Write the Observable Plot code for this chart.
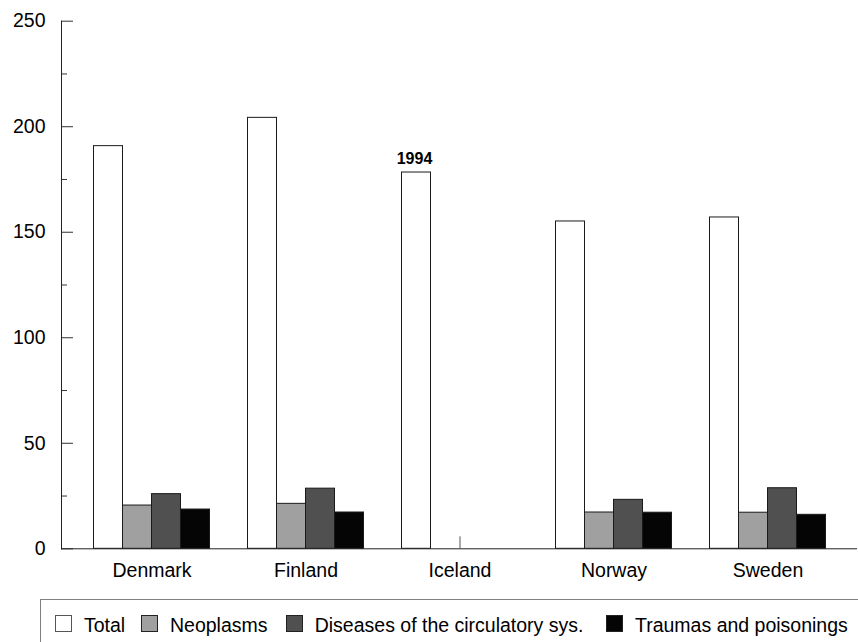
<!DOCTYPE html>
<html>
<head>
<meta charset="utf-8">
<script src="https://cdn.jsdelivr.net/npm/d3@7"></script>
<script src="https://cdn.jsdelivr.net/npm/@observablehq/plot@0.6"></script>
<style>
  html, body { margin: 0; padding: 0; background: #fff; }
  body { width: 858px; height: 642px; position: relative; overflow: hidden;
         font-family: "Liberation Sans", Arial, sans-serif; }
  #chart { position: absolute; left: 0; top: 0; }
  #legend { position: absolute; left: 40px; top: 599px; width: 900px; height: 80px;
            border-top: 1px solid #808080; border-left: 1px solid #808080;
            box-sizing: border-box; font-size: 19.5px; color: #000; }
  .sw { position: absolute; top: 15px; width: 17px; height: 17px; box-sizing: border-box; }
  .lab { position: absolute; top: 15.5px; line-height: 19.5px; white-space: nowrap; }
</style>
</head>
<body>
<div id="chart"></div>
<div id="legend"></div>
<script>
// ---- data ----
const countries   = ["Denmark", "Finland", "Iceland", "Norway", "Sweden"];
const total       = [190.8, 204.2, 178.3, 155.1, 157.0];
const neoplasms   = [20.5, 21.3, null, 17.2, 17.1];
const circulatory = [25.9, 28.5, null, 23.2, 28.7];
const traumas     = [18.6, 17.2, null, 17.1, 16.1];
const seriesNames = ["Total", "Neoplasms", "Diseases of the circulatory sys.", "Traumas and poisonings"];
const seriesFills = ["#ffffff", "#a0a0a0", "#505050", "#050505"];
const yMajorTicks = [0, 50, 100, 150, 200, 250];
const yMinorTicks = [25, 75, 125, 175, 225];
const noteCountry = "Iceland";
const noteLabel   = "1994";

// ---- layout (styles, not data) ----
const legendSwatchLeft = [14, 100, 244.7, 565];   // px inside the legend box
const legendTextGap = 29;

// ---- table built from the arrays ----
const seriesValues = [total, neoplasms, circulatory, traumas];
const rows = countries.map((c, i) => ({country: c, values: seriesValues.map(s => s[i])}));
const notes = [{country: noteCountry, label: noteLabel, value: total[countries.indexOf(noteCountry)]}];

const barW = 29; // width of one bar in the group
const nS = seriesNames.length;

const barMarks = seriesNames.map((name, k) =>
  Plot.barY(rows.filter(r => r.values[k] != null), {
    x: "country",
    y: r => r.values[k],
    fill: seriesFills[k],
    stroke: "#1a1a1a",
    strokeWidth: 1,
    dx: (k - (nS - 1) / 2) * barW
  })
);

const chart = Plot.plot({
  width: 858,
  height: 590,
  marginTop: 20.7,
  marginBottom: 41.7,
  marginLeft: 61,
  marginRight: 1,
  style: {fontFamily: "'Liberation Sans', Arial, sans-serif", fontSize: "19.5px", color: "#000", background: "#fff", overflow: "visible"},
  x: {type: "band", domain: countries, paddingInner: 1 - barW / 154.4, paddingOuter: (1 - barW / 154.4) / 2, insetLeft: 12, insetRight: 12, label: null},
  y: {domain: [0, 250], label: null},
  marks: [
    Plot.axisX({tickSize: -12, tickPadding: 26.7, stroke: "#555", label: null}),
    Plot.axisY(yMinorTicks, {tickSize: -6, fill: "none", stroke: "#333", label: null}),
    Plot.axisY(yMajorTicks, {tickSize: -12, tickPadding: 28, stroke: "#333", label: null}),
    ...barMarks,
    Plot.ruleY([0], {stroke: "#222"}),
    Plot.frame({anchor: "left", stroke: "#222"}),
    Plot.text(notes, {
      x: "country", y: "value", text: "label",
      dx: (0 - (nS - 1) / 2) * barW - 2, dy: -9,
      lineAnchor: "bottom", fontWeight: "bold", fontSize: 16
    })
  ]
});
document.getElementById("chart").appendChild(chart);

// ---- legend ----
const legend = document.getElementById("legend");
seriesNames.forEach((name, k) => {
  const sw = document.createElement("div");
  sw.className = "sw";
  sw.style.left = legendSwatchLeft[k] + "px";
  sw.style.background = seriesFills[k];
  sw.style.border = "1px solid " + (k === 0 ? "#555" : "#222");
  const lab = document.createElement("span");
  lab.className = "lab";
  lab.style.left = (legendSwatchLeft[k] + legendTextGap) + "px";
  lab.textContent = name;
  legend.appendChild(sw);
  legend.appendChild(lab);
});
</script>
</body>
</html>
